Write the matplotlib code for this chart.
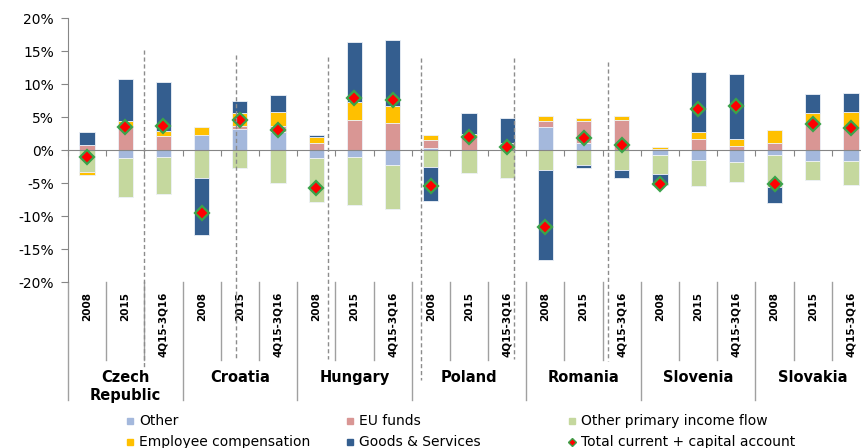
import matplotlib.pyplot as plt
import numpy as np
from matplotlib.lines import Line2D

plt.rcParams['font.family'] = ['DejaVu Sans']

countries = ['Czech\nRepublic', 'Croatia', 'Hungary', 'Poland', 'Romania', 'Slovenia', 'Slovakia']
periods = ['2008', '2015', '4Q15-3Q16']

# shares of GDP, %
other = [0, -1.2, -1.0, 2.3, 3.2, 2.8, -1.2, -1.1, -2.2, 0.3, 0, 0,
         3.5, 1.0, 0, -0.8, -1.5, -1.8, -0.8, -1.6, -1.6]
eu_funds = [0.7, 3.7, 2.1, 0, 0.5, 0.8, 1.1, 4.6, 4.1, 1.2, 2.1, 1.0,
            0.9, 3.4, 4.6, 0.2, 1.6, 0.65, 1.0, 4.0, 3.3]
other_primary = [-3.3, -5.9, -5.6, -4.2, -2.7, -5.0, -6.7, -7.2, -6.8, -2.6, -3.5, -4.2,
                 -3.0, -2.3, -3.1, -2.8, -3.9, -3.0, -4.8, -2.9, -3.7]
employee = [-0.5, 0.7, 0.8, 1.2, 1.9, 2.2, 0.9, 2.6, 2.6, 0.8, 0.4, 0,
            0.8, 0.4, 0.5, 0.3, 1.2, 1.05, 2.1, 1.6, 2.4]
goods = [2.1, 6.3, 7.4, -8.7, 1.8, 2.5, 0.3, 9.1, 10.0, -5.1, 3.1, 3.8,
         -13.7, -0.5, -1.1, -1.7, 9.0, 9.8, -2.5, 2.9, 3.0]
total = [-1.0, 3.5, 3.7, -9.5, 4.6, 3.0, -5.7, 7.9, 7.6, -5.5, 2.0, 0.5,
         -11.7, 1.8, 0.75, -5.2, 6.2, 6.7, -5.1, 3.9, 3.4]

series = [('Other', other, '#A4B8DC'),
          ('EU funds', eu_funds, '#D99694'),
          ('Other primary income flow', other_primary, '#C5D89E'),
          ('Employee compensation', employee, '#FFC000'),
          ('Goods & Services', goods, '#345E8F')]

# hand-drawn dashed separators in the original (misplaced)
sep_x = [1.49, 3.91, 6.32, 8.75, 11.19, 13.63]
sep_top = [15.1, 14.4, 14.1, 13.9, 13.9, 13.3]
sep_bot = [-33.0, -31.6, -31.6, -34.9, -31.6, -31.9]

W, H = 861, 448
fig = plt.figure(figsize=(W / 100, H / 100), dpi=100)
ax = fig.add_axes([68 / W, 1 - 282 / H, 802 / W, 264 / H])

n = len(countries) * len(periods)
x = np.arange(n)
pos = np.zeros(n)
neg = np.zeros(n)
for name, vals, col in series:
    v = np.array(vals, dtype=float)
    bottom = np.where(v >= 0, pos, neg)
    ax.bar(x, v, 0.4, bottom=bottom, color=col, edgecolor='#edf1f8', linewidth=0.6, zorder=2)
    pos += np.where(v >= 0, v, 0)
    neg += np.where(v < 0, v, 0)

ax.plot(x, total, ls='none', marker='D', ms=7.5, mfc='#FF0000', mec='#3BA34A', mew=1.6, zorder=5)

for sx, st, sb in zip(sep_x, sep_top, sep_bot):
    ax.plot([sx, sx], [st, sb], color='#8C8C8C', lw=1, ls=(0, (3, 2)), clip_on=False, zorder=6)

ax.set_xlim(-0.5, n - 0.5)
ax.set_ylim(-20, 20)
yt = np.arange(-20, 21, 5)
ax.set_yticks(yt)
ax.set_yticklabels([f'{v}%' for v in yt], fontsize=10)
ax.tick_params(axis='y', length=5, color='#868686', pad=5)

ax.spines['bottom'].set_position(('data', 0))
ax.set_xticks(np.arange(-0.5, n, 1))
ax.set_xticklabels([])
ax.tick_params(axis='x', length=4, color='#868686', direction='out')
for s in ['top', 'right']:
    ax.spines[s].set_visible(False)
for s in ['left', 'bottom']:
    ax.spines[s].set_color('#868686')

# multi-level category axis
tr = ax.get_xaxis_transform()
for i in range(n):
    ax.text(i, -0.038, periods[i % 3], transform=tr, rotation=90, ha='center', va='top',
            fontsize=7.5, fontweight='bold')
for i in range(n + 1):
    b = i - 0.5
    low = -0.447 if i % 3 == 0 else -0.295
    ax.plot([b, b], [0, low], transform=tr, color='#A0A0A0', lw=1, clip_on=False)
for j, c in enumerate(countries):
    ax.text(3 * j + 1, -0.335, c, transform=tr, ha='center', va='top', fontsize=10.5,
            fontweight='bold', linespacing=1.25)

# legend
leg_x = [130, 350, 572]
leg_y = [421, 442]
labels = [s[0] for s in series] + ['Total current + capital account']
for k, lab in enumerate(labels):
    px = leg_x[k % 3]
    py = 1 - leg_y[k // 3] / H
    if k < len(series):
        m = Line2D([px / W], [py], marker='s', ms=5, color=series[k][2], ls='none',
                   transform=fig.transFigure)
    else:
        m = Line2D([px / W], [py], marker='D', ms=4, mfc='#FF0000', mec='#3BA34A', mew=1,
                   ls='none', transform=fig.transFigure)
    fig.add_artist(m)
    fig.text((px + 9) / W, py, lab, fontsize=10, va='center', ha='left')

fig.savefig('out.png', dpi=100)
